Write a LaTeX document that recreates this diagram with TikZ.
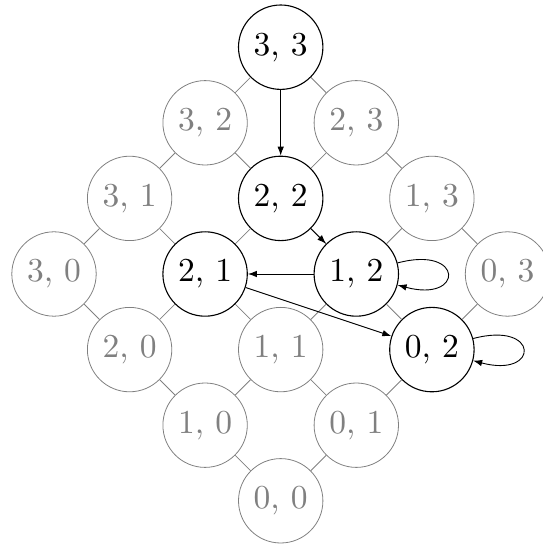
\documentclass[tikz,border=0pt]{standalone}
\usetikzlibrary{arrows.meta}
\newcommand{\lbl}[1]{\scalebox{3.35}{#1}}
\begin{document}
\begin{tikzpicture}[x=1pt,y=1pt,
  st/.style={circle,draw=black,text=black,minimum size=84.4pt,inner sep=0pt,font=\fontsize{10}{12}\selectfont,line width=1.1pt},
  gst/.style={st,draw=gray,text=gray,line width=0.8pt},
  lat/.style={gray,line width=0.8pt},
  arr/.style={-{Latex[length=9pt,width=6.5pt]},line width=0.9pt,black}]
\useasboundingbox (0,0) rectangle (543,544);
\node[st]  (n33) at (280.7,496.8) {\lbl{3, 3}};
\node[gst] (n32) at (205.1,421.2) {\lbl{3, 2}};
\node[gst] (n23) at (356.3,421.2) {\lbl{2, 3}};
\node[gst] (n31) at (129.6,345.6) {\lbl{3, 1}};
\node[st]  (n22) at (280.7,345.6) {\lbl{2, 2}};
\node[gst] (n13) at (431.9,345.6) {\lbl{1, 3}};
\node[gst] (n30) at (54.0,270.0) {\lbl{3, 0}};
\node[st]  (n21) at (205.1,270.0) {\lbl{2, 1}};
\node[st]  (n12) at (356.3,270.0) {\lbl{1, 2}};
\node[gst] (n03) at (507.5,270.0) {\lbl{0, 3}};
\node[gst] (n20) at (129.6,194.4) {\lbl{2, 0}};
\node[gst] (n11) at (280.7,194.4) {\lbl{1, 1}};
\node[st]  (n02) at (431.9,194.4) {\lbl{0, 2}};
\node[gst] (n10) at (205.1,118.8) {\lbl{1, 0}};
\node[gst] (n01) at (356.3,118.8) {\lbl{0, 1}};
\node[gst] (n00) at (280.7,43.2) {\lbl{0, 0}};
\foreach \i in {1,2,3}{
  \foreach \j in {0,...,3}{
    \pgfmathtruncatemacro\k{\i-1}
    \draw[lat] (n\i\j) -- (n\k\j);
    \draw[lat] (n\j\i) -- (n\j\k);
  }
}
\draw[arr] (n33) -- (n22);
\draw[arr] (n22) -- (n12);
\draw[arr] (n12) -- (n21);
\draw[arr] (n21) -- (n02);
\draw[arr] (n12) to[loop right] (n12);
\draw[arr] (n02) to[loop right] (n02);
\end{tikzpicture}
\end{document}
